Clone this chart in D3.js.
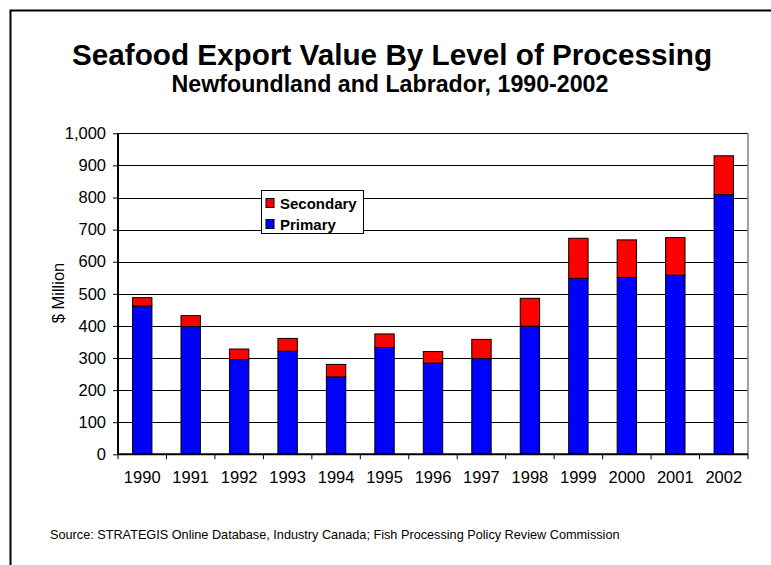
<!DOCTYPE html>
<html>
<head>
<meta charset="utf-8">
<script src="https://cdn.jsdelivr.net/npm/d3@7/dist/d3.min.js"></script>
<style>
  html, body { margin: 0; padding: 0; background: #fff; overflow: hidden; }
  svg { display: block; }
  text { font-family: "Liberation Sans", Arial, sans-serif; }
</style>
</head>
<body>
<div id="chart"></div>
<script>
// Seafood export value ($ million) by level of processing, Newfoundland and Labrador
const years = ["1990","1991","1992","1993","1994","1995","1996","1997","1998","1999","2000","2001","2002"];
const primary   = [462, 398, 295, 321, 241, 333, 284, 298, 399, 548, 551, 558, 809];
const secondary = [26, 34, 33, 40, 39, 42, 36, 60, 87, 125, 117, 117, 121];
const seriesNames = ["Primary", "Secondary"];
const seriesColors = ["#0000ff", "#ff0000"];
const yTicks = [0, 100, 200, 300, 400, 500, 600, 700, 800, 900, 1000];

const W = 771, H = 565;
const plot = { left: 118, right: 748, top: 133.3, bottom: 454.3 };

const svg = d3.select("#chart").append("svg")
  .attr("width", W).attr("height", H);

svg.append("rect").attr("width", W).attr("height", H).attr("fill", "#fff");

// outer frame
svg.append("path")
  .attr("d", `M10.5,${H + 5} L10.5,10.5 L${W + 5},10.5`)
  .attr("fill", "none").attr("stroke", "#000").attr("stroke-width", 2);

// titles
svg.append("text")
  .attr("x", 392).attr("y", 65)
  .attr("text-anchor", "middle")
  .attr("font-size", 29.7).attr("font-weight", "bold")
  .text("Seafood Export Value By Level of Processing");
svg.append("text")
  .attr("x", 390).attr("y", 92)
  .attr("text-anchor", "middle")
  .attr("font-size", 23.2).attr("font-weight", "bold")
  .text("Newfoundland and Labrador, 1990-2002");

const x = d3.scaleBand()
  .domain(years)
  .range([plot.left, plot.right])
  .paddingInner(0.6)
  .paddingOuter(0.3);

const y = d3.scaleLinear()
  .domain([0, 1000])
  .range([plot.bottom, plot.top]);

// horizontal gridlines
svg.append("g")
  .selectAll("line")
  .data(yTicks.filter(d => d > 0))
  .join("line")
  .attr("x1", plot.left).attr("x2", plot.right)
  .attr("y1", d => Math.round(y(d)) + 0.5).attr("y2", d => Math.round(y(d)) + 0.5)
  .attr("stroke", "#000").attr("stroke-width", 1);

// right edge of plot area
svg.append("line")
  .attr("x1", plot.right).attr("x2", plot.right)
  .attr("y1", y(1000)).attr("y2", y(0))
  .attr("stroke", "#808080").attr("stroke-width", 1.5);

// stacked bars
const table = years.map((yr, i) => ({ year: yr, Primary: primary[i], Secondary: secondary[i] }));
const stacked = d3.stack().keys(seriesNames)(table);

svg.append("g")
  .selectAll("g")
  .data(stacked)
  .join("g")
  .attr("fill", (d, i) => seriesColors[i])
  .selectAll("rect")
  .data(d => d)
  .join("rect")
  .attr("x", d => x(d.data.year))
  .attr("width", x.bandwidth())
  .attr("y", d => y(d[1]))
  .attr("height", d => y(d[0]) - y(d[1]))
  .attr("stroke", "#000").attr("stroke-width", 1);

// y axis
const yAxis = d3.axisLeft(y)
  .tickValues(yTicks)
  .tickSize(5)
  .tickPadding(7)
  .tickFormat(d3.format(","));
const gy = svg.append("g")
  .attr("transform", `translate(${plot.left},0)`)
  .call(yAxis);
gy.select(".domain").attr("stroke", "#000").attr("stroke-width", 2).attr("d", `M0,${y(0)}V${y(1000)}`);
gy.selectAll(".tick line").attr("stroke", "#000");
gy.selectAll(".tick text")
  .attr("font-size", 16.5)
  .attr("font-family", "'Liberation Sans', Arial, sans-serif")
  .attr("fill", "#000");

// x axis: ticks at category boundaries
const gx = svg.append("g")
  .attr("transform", `translate(0,${plot.bottom})`);
gx.append("line")
  .attr("x1", plot.left).attr("x2", plot.right)
  .attr("stroke", "#000").attr("stroke-width", 2);
const step = x.step();
gx.selectAll("line.tk")
  .data(d3.range(years.length + 1))
  .join("line")
  .attr("class", "tk")
  .attr("x1", i => plot.left + i * step).attr("x2", i => plot.left + i * step)
  .attr("y1", 0).attr("y2", 5)
  .attr("stroke", "#000").attr("stroke-width", 1);
gx.selectAll("text")
  .data(years)
  .join("text")
  .attr("x", d => x(d) + x.bandwidth() / 2)
  .attr("y", 29)
  .attr("text-anchor", "middle")
  .attr("font-size", 16.5)
  .text(d => d);

// y axis title
svg.append("text")
  .attr("transform", `translate(64,293) rotate(-90)`)
  .attr("text-anchor", "middle")
  .attr("font-size", 16.5)
  .text("$ Million");

// legend
const lg = svg.append("g").attr("transform", "translate(261.5,190.5)");
lg.append("rect")
  .attr("width", 102).attr("height", 43)
  .attr("fill", "#fff").attr("stroke", "#000").attr("stroke-width", 1);
const legendItems = [
  { name: "Secondary", color: seriesColors[1] },
  { name: "Primary", color: seriesColors[0] }
];
const li = lg.selectAll("g.item")
  .data(legendItems)
  .join("g")
  .attr("class", "item")
  .attr("transform", (d, i) => `translate(4.5,${8 + i * 21})`);
li.append("rect")
  .attr("width", 8).attr("height", 9)
  .attr("fill", d => d.color).attr("stroke", "#000").attr("stroke-width", 1);
li.append("text")
  .attr("x", 14).attr("y", 10)
  .attr("font-size", 15).attr("font-weight", "bold")
  .text(d => d.name);

// source note
svg.append("text")
  .attr("x", 50).attr("y", 539)
  .attr("font-size", 12.7)
  .text("Source: STRATEGIS Online Database, Industry Canada; Fish Processing Policy Review Commission");
</script>
</body>
</html>
